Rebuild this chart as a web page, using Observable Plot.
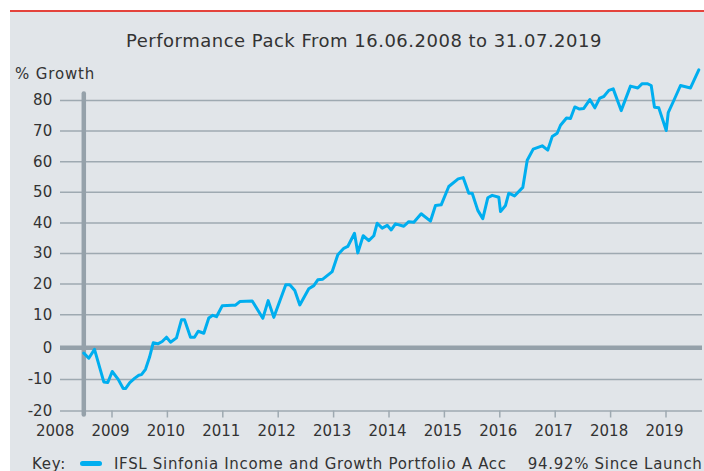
<!DOCTYPE html>
<html>
<head>
<meta charset="utf-8">
<script src="https://cdn.jsdelivr.net/npm/d3@7"></script>
<script src="https://cdn.jsdelivr.net/npm/@observablehq/plot@0.6"></script>
<style>
  html, body { margin: 0; padding: 0; background: #ffffff; }
  #wrap { position: relative; width: 704px; height: 471px; overflow: hidden; background: #ffffff;
          font-family: "DejaVu Sans", Verdana, sans-serif; color: #333333; }
  #red { position: absolute; left: 10px; top: 10px; width: 694px; height: 2px; background: #e4433c; }
  #panel { position: absolute; left: 10px; top: 12px; width: 694px; height: 459px; background: #e1e5e9; }
  .t { position: absolute; white-space: nowrap; line-height: 20px; }
  #title { left: 10px; width: 708px; top: 30.5px; text-align: center; font-size: 18px; letter-spacing: 0.5px; }
  #ylab { left: 15px; top: 64px; font-size: 15px; letter-spacing: 0.85px; }
  #chart { position: absolute; left: 0; top: 55px; }
  #key { left: 32px; top: 454px; font-size: 15px; letter-spacing: 0.7px; }
  #swatch { position: absolute; left: 79.5px; top: 461px; width: 22px; height: 5px; border-radius: 3px; background: #00aeef; }
  #series { left: 114px; top: 454px; font-size: 15px; letter-spacing: 0.68px; }
  #since { right: 1.5px; top: 454px; font-size: 15px; letter-spacing: 0.68px; }
</style>
</head>
<body>
<div id="wrap">
  <div id="red"></div>
  <div id="panel"></div>
  <div class="t" id="title"></div>
  <div class="t" id="ylab"></div>
  <div id="chart"></div>
  <div class="t" id="key"></div>
  <div id="swatch"></div>
  <div class="t" id="series"></div>
  <div class="t" id="since"></div>
</div>
<script>
// ---- Data ----
const titleText = "Performance Pack From 16.06.2008 to 31.07.2019";
const yAxisLabel = "% Growth";
const seriesName = "IFSL Sinfonia Income and Growth Portfolio A Acc";
const sinceLaunch = "94.92% Since Launch";

// time in decimal years
const years = [
  2008.491, 2008.581, 2008.684, 2008.852, 2008.924, 2009.004, 2009.112, 2009.202, 2009.244, 2009.321,
  2009.412, 2009.484, 2009.532, 2009.605, 2009.677, 2009.744, 2009.827, 2009.906, 2009.984, 2010.056,
  2010.164, 2010.255, 2010.309, 2010.417, 2010.489, 2010.556, 2010.657, 2010.747, 2010.819, 2010.886,
  2010.989, 2011.170, 2011.229, 2011.307, 2011.531, 2011.722, 2011.819, 2011.921, 2012.137, 2012.209,
  2012.300, 2012.390, 2012.552, 2012.643, 2012.715, 2012.805, 2012.975, 2013.076, 2013.184, 2013.256,
  2013.377, 2013.437, 2013.534, 2013.635, 2013.726, 2013.787, 2013.877, 2013.968, 2014.040, 2014.117,
  2014.267, 2014.357, 2014.448, 2014.581, 2014.749, 2014.839, 2014.942, 2015.079, 2015.249, 2015.339,
  2015.440, 2015.502, 2015.603, 2015.693, 2015.783, 2015.863, 2015.982, 2016.013, 2016.103, 2016.162,
  2016.265, 2016.415, 2016.495, 2016.603, 2016.765, 2016.866, 2016.946, 2017.036, 2017.096, 2017.204,
  2017.276, 2017.354, 2017.439, 2017.516, 2017.625, 2017.715, 2017.805, 2017.877, 2017.968, 2018.047,
  2018.191, 2018.359, 2018.491, 2018.570, 2018.661, 2018.733, 2018.792, 2018.870, 2019.004, 2019.040,
  2019.141, 2019.262, 2019.442, 2019.592
];
// % growth
const growth = [
  -1.7, -3.3, -0.5, -10.8, -11.0, -7.5, -10.0, -12.9, -12.9, -11.0,
  -9.6, -8.7, -8.5, -6.8, -3.0, 1.5, 1.2, 1.9, 3.2, 1.7,
  3.0, 8.5, 8.5, 3.2, 3.2, 5.0, 4.4, 9.0, 9.8, 9.4,
  12.9, 13.1, 13.1, 14.3, 14.5, 8.9, 14.6, 9.2, 19.8, 19.8,
  17.9, 13.2, 18.5, 19.5, 21.4, 21.6, 24.1, 29.6, 31.7, 32.3,
  36.6, 30.2, 35.8, 34.2, 35.8, 39.9, 38.3, 39.2, 37.7, 39.7,
  38.9, 40.4, 40.2, 43.0, 40.6, 45.7, 45.9, 51.9, 54.4, 54.8,
  49.7, 49.7, 44.1, 41.4, 48.2, 49.0, 48.4, 43.7, 45.7, 49.7,
  48.8, 51.6, 60.5, 64.1, 65.2, 63.8, 68.2, 69.3, 71.9, 74.3,
  74.1, 77.9, 77.2, 77.4, 80.3, 77.6, 80.8, 81.3, 83.3, 83.8,
  76.7, 84.7, 84.1, 85.5, 85.5, 84.9, 77.8, 77.6, 70.2, 76.0,
  80.0, 84.9, 84.1, 90.0
];

const yTicks = [-20, -10, 0, 10, 20, 30, 40, 50, 60, 70, 80];
const xTicks = [2009, 2010, 2011, 2012, 2013, 2014, 2015, 2016, 2017, 2018, 2019];
const xLabels = [2008, 2009, 2010, 2011, 2012, 2013, 2014, 2015, 2016, 2017, 2018, 2019];

// ---- Text ----
document.getElementById("title").textContent = titleText;
document.getElementById("ylab").textContent = yAxisLabel;
document.getElementById("key").textContent = "Key:";
document.getElementById("series").textContent = seriesName;
document.getElementById("since").textContent = sinceLaunch;

// ---- Chart ----
const rows = years.map((t, i) => ({t, v: growth[i]}));
const gridColor = "#9ea9b1";
const axisColor = "#95a1aa";

const chart = Plot.plot({
  width: 704,
  height: 395,
  marginTop: 38.5,
  marginBottom: 35.5,
  marginLeft: 60,
  marginRight: 2,
  style: {background: "transparent", fontFamily: "'DejaVu Sans', Verdana, sans-serif", fontSize: "15px", color: "#333333", overflow: "visible"},
  x: {type: "linear", domain: [2009, 2019], range: [111.5, 665.5], axis: null},
  y: {type: "linear", domain: [-20, 0, 10, 80], range: [355.5, 292.3, 259.2, 45], axis: null},
  marks: [
    Plot.ruleY(yTicks.filter(d => d !== 0), {y: d => d, stroke: gridColor, strokeWidth: 1.5}),
    Plot.ruleX(xTicks, {x: d => d, y1: -20, y2: -20, insetBottom: -7, stroke: gridColor, strokeWidth: 1.5}),
    Plot.ruleY([0], {y: d => d, stroke: axisColor, strokeWidth: 4.5}),
    Plot.ruleX([years[0]], {x: d => d, stroke: axisColor, strokeWidth: 4.5, strokeLinecap: "round"}),
    Plot.line(rows, {x: "t", y: "v", stroke: "#00aeef", strokeWidth: 3, strokeLinejoin: "round", strokeLinecap: "round"}),
    Plot.text(yTicks, {y: d => d, frameAnchor: "left", dx: -8.3, textAnchor: "end", fontSize: 15, fill: "#333333", text: d => String(d)}),
    Plot.text(xLabels, {x: d => d, frameAnchor: "bottom", dy: 20.7, dx: -1.5, fontSize: 15, fill: "#333333", text: d => String(d)})
  ]
});
document.getElementById("chart").appendChild(chart);
</script>
</body>
</html>
